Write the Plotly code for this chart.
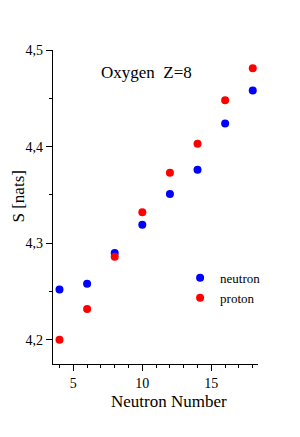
import plotly.graph_objects as go

neutron_number = [4, 6, 8, 10, 12, 14, 16, 18]
s_neutron = [4.252, 4.258, 4.290, 4.319, 4.351, 4.376, 4.424, 4.458]
s_proton = [4.200, 4.232, 4.286, 4.332, 4.373, 4.403, 4.448, 4.481]

FONT = "Liberation Serif"

fig = go.Figure()
fig.add_trace(go.Scatter(x=neutron_number, y=s_neutron, mode="markers", name="neutron",
                         marker=dict(color="#0000ff", size=8)))
fig.add_trace(go.Scatter(x=neutron_number, y=s_proton, mode="markers", name="proton",
                         marker=dict(color="#ff0000", size=8)))

# page body has an 8px margin; plot area spans x 53..258, y 50..364 in the window
fig.update_layout(
    width=284, height=421,
    margin=dict(l=45, r=34, t=42, b=65),
    paper_bgcolor="white", plot_bgcolor="white",
    separators=",.",
    font=dict(family=FONT, size=14, color="black"),
    showlegend=True,
    legend=dict(x=0.62, y=0.322, xanchor="left", yanchor="top",
                bgcolor="rgba(0,0,0,0)", font=dict(size=13, family=FONT),
                itemwidth=30, tracegroupgap=0),
    xaxis=dict(range=[3.53, 18.38], showline=True, linecolor="black", linewidth=1.2,
               showgrid=False, zeroline=False, ticks="outside", ticklen=6, tickwidth=1,
               tickcolor="black", tick0=5, dtick=5,
               minor=dict(ticks="outside", ticklen=3, dtick=1, tick0=0, tickcolor="black", showgrid=False),
               tickfont=dict(size=14, family=FONT)),
    yaxis=dict(range=[4.175, 4.5], showline=True, linecolor="black", linewidth=1.2,
               showgrid=False, zeroline=False, ticks="outside", ticklen=6, tickwidth=1,
               tickcolor="black", tick0=4.2, dtick=0.1, tickformat=".1f",
               minor=dict(ticks="outside", ticklen=3, dtick=0.05, tickcolor="black", showgrid=False),
               tickfont=dict(size=14, family=FONT)),
    annotations=[
        dict(text="Oxygen\u00a0\u00a0Z=8", xref="paper", yref="paper", x=0.454, y=0.927,
             xanchor="center", yanchor="middle", showarrow=False, font=dict(size=17, family=FONT)),
        dict(text="Neutron Number", xref="paper", yref="paper", x=(168.5 - 53) / 205,
             y=(364 - 401) / 314, xanchor="center", yanchor="middle", showarrow=False,
             font=dict(size=17, family=FONT)),
        dict(text="S [nats]", xref="paper", yref="paper", x=(17.5 - 53) / 205,
             y=(364 - 197) / 314, xanchor="center", yanchor="middle", showarrow=False,
             textangle=-90, font=dict(size=17, family=FONT)),
    ],
)

fig.write_html("out.html")
